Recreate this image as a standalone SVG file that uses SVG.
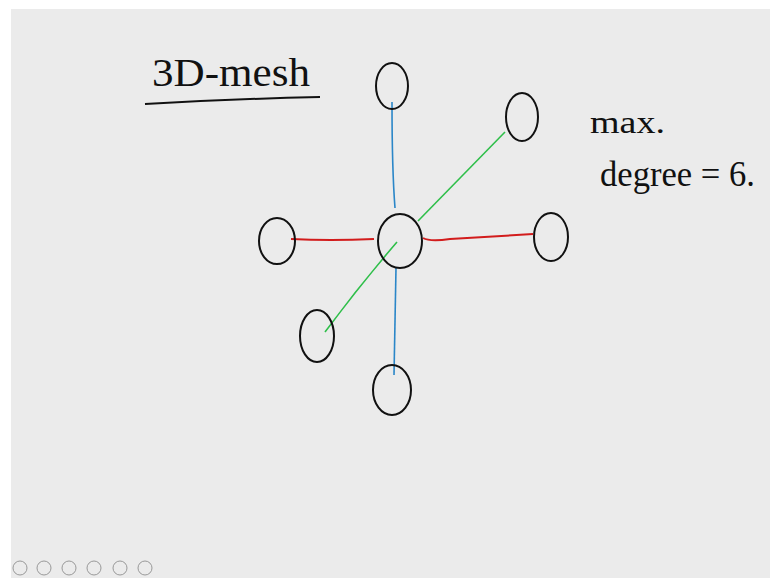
<svg xmlns="http://www.w3.org/2000/svg" width="770" height="578" viewBox="0 0 770 578">
<style>
.node{fill:none;stroke:#111;stroke-width:2}
.hand{font-family:"Liberation Serif",serif;fill:#111}
.blue{stroke:#2a86c8;stroke-width:1.6;fill:none}
.green{stroke:#2fbf4a;stroke-width:1.6;fill:none}
.red{stroke:#d21c1c;stroke-width:2;fill:none}
.tb{fill:none;stroke:#999;stroke-width:1}
</style>
<rect x="0" y="0" width="770" height="578" fill="#ffffff"/>
<rect x="11" y="9" width="759" height="569" fill="#ebebeb"/>
<g id="title">
<text class="hand" x="152" y="86" font-size="40" textLength="158" lengthAdjust="spacingAndGlyphs">3D-mesh</text>
<path d="M145,104 Q230,99 320,97" stroke="#111" stroke-width="2" fill="none"/>
</g>
<g id="note">
<text class="hand" x="590" y="133" font-size="32" textLength="75" lengthAdjust="spacingAndGlyphs">max.</text>
<text class="hand" x="600" y="186" font-size="36" textLength="155" lengthAdjust="spacingAndGlyphs">degree = 6.</text>
</g>
<g id="connectors">
<path class="blue" d="M392,102 Q392,170 395,208"/>
<path class="green" d="M505,132 L418,221"/>
<path class="red" d="M291,239 Q330,241 374,239"/>
<path class="red" d="M423,238 Q430,242 450,239 L533,234"/>
<path class="green" d="M397,242 Q360,285 325,332"/>
<path class="blue" d="M396,268 L394,375"/>
</g>
<g id="n-center"><ellipse class="node" cx="400" cy="241" rx="22" ry="27"/></g>
<g id="n-top"><ellipse class="node" cx="392" cy="86" rx="16" ry="23"/></g>
<g id="n-topright"><ellipse class="node" cx="522" cy="117" rx="16" ry="24"/></g>
<g id="n-left"><ellipse class="node" cx="277" cy="241" rx="18" ry="23"/></g>
<g id="n-right"><ellipse class="node" cx="551" cy="237" rx="17" ry="24"/></g>
<g id="n-bottomleft"><ellipse class="node" cx="317" cy="336" rx="17" ry="26"/></g>
<g id="n-bottom"><ellipse class="node" cx="392" cy="390" rx="19" ry="25"/></g>
<g id="toolbar">
<circle class="tb" cx="20" cy="568" r="7"/>
<circle class="tb" cx="44" cy="568" r="7"/>
<circle class="tb" cx="69" cy="568" r="7"/>
<circle class="tb" cx="94" cy="568" r="7"/>
<circle class="tb" cx="120" cy="568" r="7"/>
<circle class="tb" cx="145" cy="568" r="7"/>
</g>
</svg>
